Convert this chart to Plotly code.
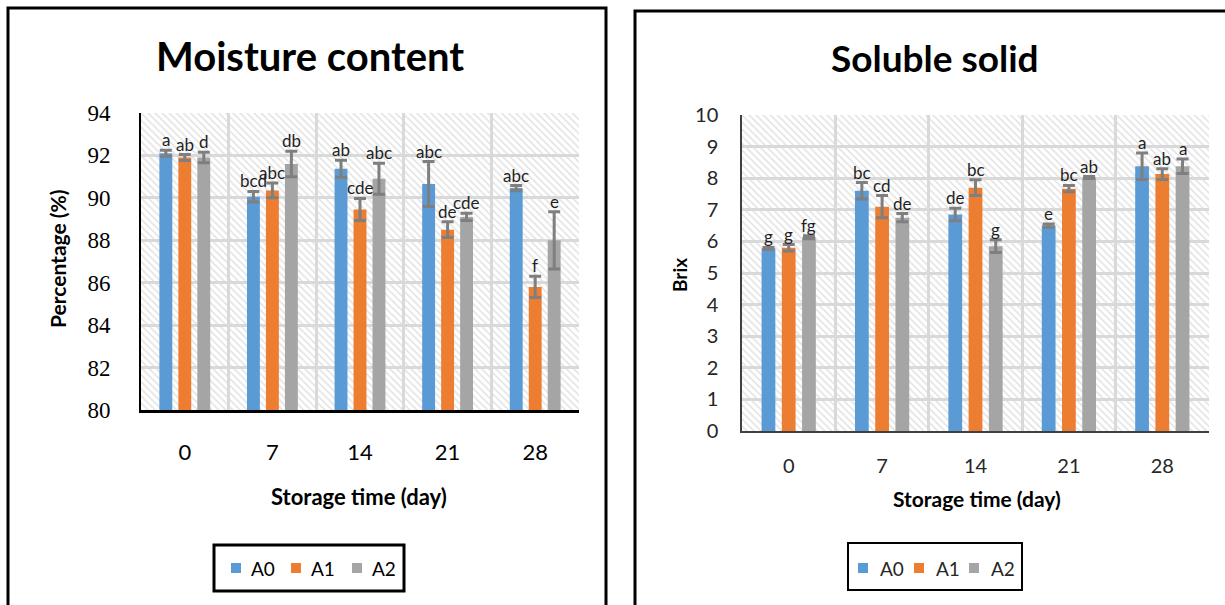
import plotly.graph_objects as go

# Storage days shared by both panels
days = ["0", "7", "14", "21", "28"]
series = ["A0", "A1", "A2"]
colors = ["#5b9bd5", "#ed7d31", "#a5a5a5"]

# Moisture content (%) with standard errors and significance letters
moist_a0 = [92.1, 90.05, 91.37, 90.65, 90.46]
moist_a1 = [91.9, 90.35, 89.45, 88.5, 85.8]
moist_a2 = [91.9, 91.6, 90.9, 89.1, 88.0]
moist_err_a0 = [0.14, 0.25, 0.4, 1.06, 0.12]
moist_err_a1 = [0.14, 0.35, 0.52, 0.37, 0.5]
moist_err_a2 = [0.25, 0.6, 0.73, 0.17, 1.35]
moist_lbl_a0 = ["a", "bcd", "ab", "abc", "abc"]
moist_lbl_a1 = ["ab", "abc", "cde", "de", "f"]
moist_lbl_a2 = ["d", "db", "abc", "cde", "e"]

# Soluble solid (Brix) with standard errors and significance letters
brix_a0 = [5.78, 7.6, 6.85, 6.5, 8.38]
brix_a1 = [5.8, 7.1, 7.7, 7.67, 8.13]
brix_a2 = [6.13, 6.75, 5.85, 8.02, 8.38]
brix_err_a0 = [0.03, 0.26, 0.2, 0.05, 0.42]
brix_err_a1 = [0.1, 0.35, 0.25, 0.1, 0.17]
brix_err_a2 = [0.05, 0.13, 0.2, 0.03, 0.23]
brix_lbl_a0 = ["g", "bc", "de", "e", "a"]
brix_lbl_a1 = ["g", "cd", "bc", "bc", "ab"]
brix_lbl_a2 = ["fg", "de", "g", "ab", "a"]

W, H = 1225, 605
BARGAP = 0.35
GROUPGAP = 0.32
SANS = "Lato"
SERIF = "Liberation Serif"


def px(x):
    return x / W


def py(y):
    return 1 - y / H


fig = go.Figure()

# Panel geometry in pixels: (left, right, top, bottom)
left_box = (141, 579, 113, 410)
right_box = (742, 1209, 115, 431)

panels = [
    dict(box=left_box, hatch=("x", "y"), bars=("x2", "y2"),
         vals=[moist_a0, moist_a1, moist_a2],
         errs=[moist_err_a0, moist_err_a1, moist_err_a2],
         lbls=[moist_lbl_a0, moist_lbl_a1, moist_lbl_a2],
         # legend key layout: frame, key x-starts, text x-starts, centre y
         legend=dict(frame=(214, 404, 545, 591), width=3,
                     keys=[231, 291, 352], texts=[249, 309, 370], cy=568,
                     color="black")),
    dict(box=right_box, hatch=("x3", "y3"), bars=("x4", "y4"),
         vals=[brix_a0, brix_a1, brix_a2],
         errs=[brix_err_a0, brix_err_a1, brix_err_a2],
         lbls=[brix_lbl_a0, brix_lbl_a1, brix_lbl_a2],
         legend=dict(frame=(848, 1022, 543, 590), width=2,
                     keys=[858, 914, 969], texts=[878, 934, 989], cy=568,
                     color="#262626")),
]

annotations = []
shapes = []
for p in panels:
    hx, hy = p["hatch"]
    # hatched plot-area background
    fig.add_trace(go.Scatter(
        x=[0, 1, 1, 0, 0], y=[0, 0, 1, 1, 0], xaxis=hx, yaxis=hy,
        mode="none", fill="toself", hoverinfo="skip", showlegend=False,
        fillcolor="white",
        fillpattern=dict(shape="\\", fgcolor="#c6c6c6", bgcolor="white",
                         size=5, solidity=0.3),
    ))
    bx, by = p["bars"]
    slot = (1 - BARGAP) / 3
    for i, name in enumerate(series):
        fig.add_trace(go.Bar(
            x=days, y=p["vals"][i], name=name, xaxis=bx, yaxis=by,
            marker=dict(color=colors[i], line=dict(width=0)),
            error_y=dict(type="data", array=p["errs"][i], color="#7f7f7f",
                         thickness=3, width=6),
            showlegend=False,
        ))
        for j in range(len(days)):
            annotations.append(dict(
                x=j + (i - 1) * slot, y=p["vals"][i][j] + p["errs"][i][j],
                xref=bx, yref=by, text=p["lbls"][i][j], showarrow=False,
                yanchor="bottom", xanchor="center", yshift=-2,
                font=dict(family=SANS, size=17, color="#1f1f1f"),
            ))

    # boxed legend under each panel
    lg = p["legend"]
    fx0, fx1, fy0, fy1 = lg["frame"]
    shapes.append(dict(type="rect", xref="paper", yref="paper",
                       x0=px(fx0), x1=px(fx1), y0=py(fy1), y1=py(fy0),
                       line=dict(color="black", width=lg["width"]),
                       fillcolor="white", layer="below"))
    for i, name in enumerate(series):
        k = lg["keys"][i]
        shapes.append(dict(type="rect", xref="paper", yref="paper",
                           x0=px(k), x1=px(k + 10), y0=py(lg["cy"] + 5),
                           y1=py(lg["cy"] - 5), line=dict(width=0),
                           fillcolor=colors[i], layer="above"))
        annotations.append(dict(
            text=name, x=px(lg["texts"][i]), y=py(lg["cy"]), xref="paper",
            yref="paper", showarrow=False, xanchor="left", yanchor="middle",
            font=dict(family=SANS, size=19, color=lg["color"])))

lx = [px(left_box[0]), px(left_box[1])]
ly = [py(left_box[3]), py(left_box[2])]
rx = [px(right_box[0]), px(right_box[1])]
ry = [py(right_box[3]), py(right_box[2])]

hidden = dict(visible=False, range=[0, 1], fixedrange=True)
fig.update_layout(
    width=W, height=H,
    margin=dict(l=0, r=0, t=0, b=0, autoexpand=False),
    paper_bgcolor="white", plot_bgcolor="rgba(0,0,0,0)",
    barmode="group", bargap=BARGAP, bargroupgap=GROUPGAP,
    showlegend=False,
    xaxis=dict(domain=lx, anchor="y", **hidden),
    yaxis=dict(domain=ly, anchor="x", **hidden),
    xaxis3=dict(domain=rx, anchor="y3", **hidden),
    yaxis3=dict(domain=ry, anchor="x3", **hidden),
    xaxis2=dict(domain=lx, anchor="y2", type="category", tickson="boundaries",
                showgrid=True, gridcolor="#d9d9d9", gridwidth=3,
                showline=True, linecolor="black", linewidth=3, ticks="",
                ticklabelstandoff=21, automargin=False,
                tickfont=dict(family=SANS, size=22, color="black")),
    yaxis2=dict(domain=ly, anchor="x2", range=[80, 94], dtick=2,
                showgrid=True, gridcolor="#d9d9d9", gridwidth=3,
                showline=True, linecolor="black", linewidth=2, ticks="",
                zeroline=False, ticklabelstandoff=24, automargin=False,
                tickfont=dict(family=SERIF, size=23, color="black")),
    xaxis4=dict(domain=rx, anchor="y4", type="category", tickson="boundaries",
                showgrid=True, gridcolor="#d9d9d9", gridwidth=3,
                showline=True, linecolor="#404040", linewidth=2, ticks="",
                ticklabelstandoff=16, automargin=False,
                tickfont=dict(family=SANS, size=20, color="#262626")),
    yaxis4=dict(domain=ry, anchor="x4", range=[0, 10], dtick=1,
                showgrid=True, gridcolor="#d9d9d9", gridwidth=3,
                showline=True, linecolor="#404040", linewidth=1.5, ticks="",
                zeroline=False, ticklabelstandoff=18, automargin=False,
                tickfont=dict(family=SANS, size=20, color="#262626")),
)

# chart titles and axis titles
annotations += [
    dict(text="<b>Moisture content</b>", x=px(310), y=py(56), xref="paper",
         yref="paper", showarrow=False, xanchor="center", yanchor="middle",
         font=dict(family=SANS, size=40, color="black")),
    dict(text="<b>Soluble solid</b>", x=px(935), y=py(58), xref="paper",
         yref="paper", showarrow=False, xanchor="center", yanchor="middle",
         font=dict(family=SANS, size=37, color="black")),
    dict(text="<b>Percentage (%)</b>", x=px(58), y=py(259), xref="paper",
         yref="paper", showarrow=False, textangle=-90, xanchor="center",
         yanchor="middle", font=dict(family=SANS, size=21, color="black")),
    dict(text="<b>Storage time (day)</b>", x=px(359), y=py(497), xref="paper",
         yref="paper", showarrow=False, xanchor="center", yanchor="middle",
         font=dict(family=SANS, size=22, color="black")),
    dict(text="<b>Brix</b>", x=px(679), y=py(275), xref="paper",
         yref="paper", showarrow=False, textangle=-90, xanchor="center",
         yanchor="middle", font=dict(family=SANS, size=19, color="black")),
    dict(text="<b>Storage time (day)</b>", x=px(977), y=py(498), xref="paper",
         yref="paper", showarrow=False, xanchor="center", yanchor="middle",
         font=dict(family=SANS, size=21, color="black")),
]

# outer frames of the two chart boxes
shapes += [
    dict(type="rect", xref="paper", yref="paper", x0=px(8), x1=px(606),
         y0=py(640), y1=py(8), line=dict(color="black", width=3),
         fillcolor="rgba(0,0,0,0)", layer="above"),
    dict(type="rect", xref="paper", yref="paper", x0=px(635), x1=px(1260),
         y0=py(640), y1=py(11), line=dict(color="black", width=3),
         fillcolor="rgba(0,0,0,0)", layer="above"),
]
fig.update_layout(annotations=annotations, shapes=shapes)

fig.write_html("out.html")
